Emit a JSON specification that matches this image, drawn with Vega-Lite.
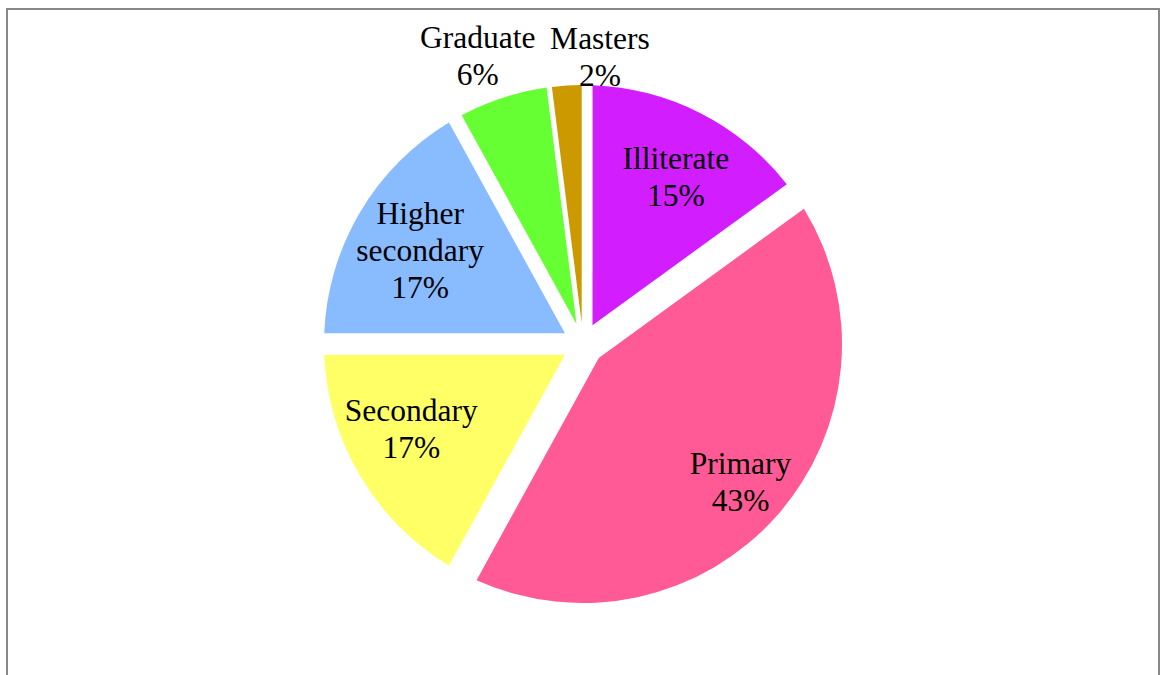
{
  "$schema": "https://vega.github.io/schema/vega-lite/v6.json",
  "width": 1152,
  "height": 670,
  "autosize": "none",
  "padding": {"left": 7, "top": 9, "right": 2, "bottom": 0},
  "background": "white",
  "view": {"stroke": "#878787", "strokeWidth": 2, "fill": "white"},
  "config": {
    "arc": {"outerRadius": 259, "innerRadius": 21},
    "text": {"font": "Liberation Serif", "fontSize": 31.5, "lineBreak": "\n", "lineHeight": 37, "align": "center", "baseline": "middle", "color": "black"}
  },
  "data": {
    "values": [
      {"rank": 1, "category": "Illiterate", "label": "Illiterate\n15%", "percent": 15},
      {"rank": 2, "category": "Primary", "label": "Primary\n43%", "percent": 43},
      {"rank": 3, "category": "Secondary", "label": "Secondary\n17%", "percent": 17},
      {"rank": 4, "category": "Higher secondary", "label": "Higher\nsecondary\n17%", "percent": 17},
      {"rank": 5, "category": "Graduate", "label": "Graduate\n6%", "percent": 6},
      {"rank": 6, "category": "Masters", "label": "Masters\n2%", "percent": 2}
    ]
  },
  "encoding": {
    "theta": {"field": "percent", "type": "quantitative", "stack": true},
    "order": {"field": "rank", "type": "quantitative"},
    "color": {
      "field": "category",
      "type": "nominal",
      "scale": {
        "domain": ["Illiterate", "Primary", "Secondary", "Higher secondary", "Graduate", "Masters"],
        "range": ["#D21EFF", "#FF5A96", "#FFFF66", "#88BBFF", "#66FF33", "#CC9900"]
      },
      "legend": null
    }
  },
  "layer": [
    {
      "mark": {"type": "arc", "padAngle": 0.0735},
      "encoding": {"opacity": {"condition": {"test": "datum.category === 'Illiterate'", "value": 1}, "value": 0}}
    },
    {
      "mark": {"type": "arc", "padAngle": 0.158},
      "encoding": {"opacity": {"condition": {"test": "datum.category === 'Primary'", "value": 1}, "value": 0}}
    },
    {
      "mark": {"type": "arc", "padAngle": 0.0824},
      "encoding": {"opacity": {"condition": {"test": "datum.category === 'Secondary' || datum.category === 'Higher secondary'", "value": 1}, "value": 0}}
    },
    {
      "mark": {"type": "arc", "padAngle": 0.0304},
      "encoding": {"opacity": {"condition": {"test": "datum.category === 'Graduate'", "value": 1}, "value": 0}}
    },
    {
      "mark": {"type": "arc", "padAngle": 0.0102},
      "encoding": {"opacity": {"condition": {"test": "datum.category === 'Masters'", "value": 1}, "value": 0}}
    },
    {
      "mark": {"type": "text", "radius": 190, "thetaOffset": 0.04, "dy": -18},
      "encoding": {
        "color": {"value": "black"},
        "text": {"field": "label", "type": "nominal", "condition": {"test": "datum.category !== 'Illiterate'", "value": ""}}
      }
    },
    {
      "mark": {"type": "text", "radius": 210, "dy": -18},
      "encoding": {
        "color": {"value": "black"},
        "text": {"field": "label", "type": "nominal", "condition": {"test": "datum.category !== 'Primary'", "value": ""}}
      }
    },
    {
      "mark": {"type": "text", "radius": 192, "thetaOffset": 0.07, "dy": -18},
      "encoding": {
        "color": {"value": "black"},
        "text": {"field": "label", "type": "nominal", "condition": {"test": "datum.category !== 'Secondary'", "value": ""}}
      }
    },
    {
      "mark": {"type": "text", "radius": 187, "thetaOffset": -0.02, "dy": -37},
      "encoding": {
        "color": {"value": "black"},
        "text": {"field": "label", "type": "nominal", "condition": {"test": "datum.category !== 'Higher secondary'", "value": ""}}
      }
    },
    {
      "mark": {"type": "text", "radius": 302, "dx": -12, "dy": -18},
      "encoding": {
        "color": {"value": "black"},
        "text": {"field": "label", "type": "nominal", "condition": {"test": "datum.category !== 'Graduate'", "value": ""}}
      }
    },
    {
      "mark": {"type": "text", "radius": 287, "dx": 35, "dy": -18},
      "encoding": {
        "color": {"value": "black"},
        "text": {"field": "label", "type": "nominal", "condition": {"test": "datum.category !== 'Masters'", "value": ""}}
      }
    }
  ]
}
